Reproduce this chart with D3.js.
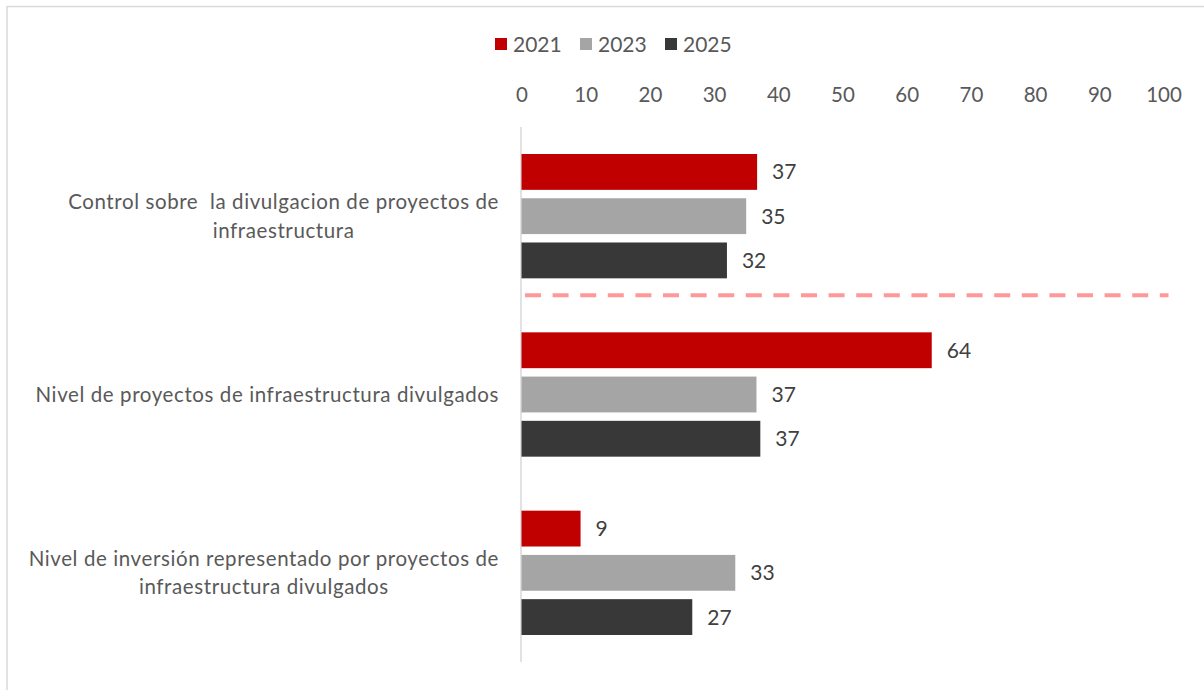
<!DOCTYPE html>
<html>
<head>
<meta charset="utf-8">
<script src="https://cdn.jsdelivr.net/npm/d3@7"></script>
<style>
  html, body { margin: 0; padding: 0; background: #fff; }
  svg { display: block; font-family: Lato, "Open Sans", sans-serif; }
</style>
</head>
<body>
<svg id="chart" width="1204" height="690"></svg>
<script>
const categories = [
  ["Control sobre  la divulgacion de proyectos de", "infraestructura"],
  ["Nivel de proyectos de infraestructura divulgados"],
  ["Nivel de inversión representado por proyectos de", "infraestructura divulgados"]
];
const seriesNames = ["2021", "2023", "2025"];
const seriesColors = ["#c00000", "#a5a5a5", "#383838"];
const values2021 = [36.7, 63.9, 9.2];
const values2023 = [35.0, 36.6, 33.3];
const values2025 = [32.0, 37.2, 26.6];
const labels2021 = ["37", "64", "9"];
const labels2023 = ["35", "37", "33"];
const labels2025 = ["32", "37", "27"];
const tickValues = [0, 10, 20, 30, 40, 50, 60, 70, 80, 90, 100];

const seriesValues = [values2021, values2023, values2025];
const seriesLabels = [labels2021, labels2023, labels2025];

const svg = d3.select("#chart");
const W = 1204, H = 690;

// frame (top and left only)
svg.append("line").attr("x1", 7).attr("x2", W).attr("y1", 6.5).attr("y2", 6.5)
  .attr("stroke", "#d9d9d9").attr("stroke-width", 1.5);
svg.append("line").attr("x1", 7).attr("x2", 7).attr("y1", 6).attr("y2", H)
  .attr("stroke", "#d9d9d9").attr("stroke-width", 1.5);

const x = d3.scaleLinear().domain([0, 100]).range([521.5, 1163.5]);
const catIdx = categories.map((d, i) => i);
const y0 = d3.scaleBand().domain(catIdx).range([127, 662]).paddingInner(0).paddingOuter(0);
const y1 = d3.scaleBand().domain(seriesNames).range([27, y0.bandwidth() - 27]).paddingInner(0.19).paddingOuter(0);

// top axis
const axis = d3.axisTop(x).tickValues(tickValues).tickSize(0).tickPadding(0);
const gAxis = svg.append("g").attr("transform", "translate(0,102)").call(axis);
gAxis.select(".domain").remove();
gAxis.selectAll("text")
  .attr("fill", "#595959")
  .style("font-size", "20.5px")
  .style("font-family", "Lato, 'Open Sans', sans-serif");

// vertical axis line
svg.append("line").attr("x1", x(0) - 0.5).attr("x2", x(0) - 0.5)
  .attr("y1", y0.range()[0]).attr("y2", y0.range()[1])
  .attr("stroke", "#d9d9d9").attr("stroke-width", 1.5);

// bars
const groups = svg.append("g").selectAll("g").data(catIdx).join("g")
  .attr("transform", i => `translate(0,${y0(i)})`);

groups.each(function(ci) {
  const g = d3.select(this);
  seriesNames.forEach((s, si) => {
    const v = seriesValues[si][ci];
    g.append("rect")
      .attr("x", x(0))
      .attr("y", y1(s))
      .attr("width", x(v) - x(0))
      .attr("height", y1.bandwidth())
      .attr("fill", seriesColors[si]);
    g.append("text")
      .attr("x", x(v) + 15)
      .attr("y", y1(s) + y1.bandwidth() / 2)
      .attr("dy", "0.36em")
      .attr("fill", "#404040")
      .style("font-size", "21px")
      .text(seriesLabels[si][ci]);
  });
});

// dashed separator line between first and second groups
svg.append("line")
  .attr("x1", x(0) + 3.5).attr("x2", x(100) + 5)
  .attr("y1", y0(1) - 10).attr("y2", y0(1) - 10)
  .attr("stroke", "#ff9999").attr("stroke-width", 4)
  .attr("stroke-dasharray", "16,11.6");

// category labels (multi-line, centered block, right aligned)
const labelRight = 499;
const lineH = 28.5;
categories.forEach((lines, ci) => {
  const cy = y0(ci) + y0.bandwidth() / 2;
  const t = svg.append("text")
    .attr("fill", "#595959")
    .style("font-size", "20.5px")
    .style("letter-spacing", "0.6px")
    .style("white-space", "pre")
    .attr("text-anchor", "middle");
  const startY = cy - (lines.length - 1) * lineH / 2;
  const spans = lines.map((ln, li) => t.append("tspan")
    .attr("y", startY + li * lineH)
    .attr("dy", "0.35em")
    .text(ln));
  let maxW = 0;
  spans.forEach(sp => { maxW = Math.max(maxW, sp.node().getComputedTextLength()); });
  spans.forEach(sp => sp.attr("x", labelRight - maxW / 2));
});

// legend
const legendX = [495, 580, 665];
const legend = svg.append("g");
seriesNames.forEach((s, si) => {
  legend.append("rect").attr("x", legendX[si]).attr("y", 38).attr("width", 12).attr("height", 12)
    .attr("fill", seriesColors[si]);
  legend.append("text").attr("x", legendX[si] + 18).attr("y", 44).attr("dy", "0.36em")
    .attr("fill", "#595959").style("font-size", "21px").text(s);
});
</script>
</body>
</html>
